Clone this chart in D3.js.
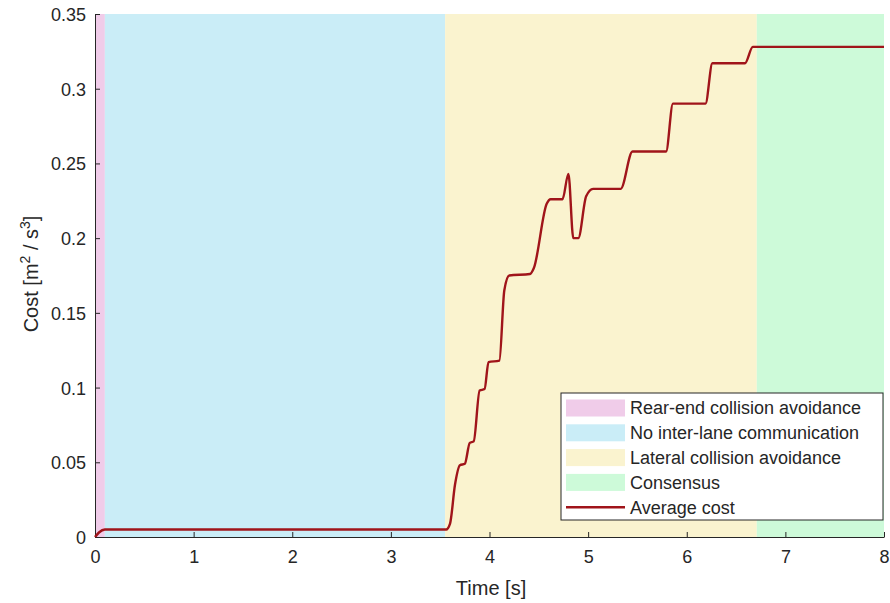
<!DOCTYPE html>
<html>
<head>
<meta charset="utf-8">
<script src="https://cdn.jsdelivr.net/npm/d3@7"></script>
<style>
  body { margin: 0; background: #fff; }
  svg text { font-family: "Liberation Sans", Arial, sans-serif; fill: #262626; }
</style>
</head>
<body>
<svg id="chart" width="890" height="603"></svg>
<script>
// phases (background bands)
var phaseNames = ["Rear-end collision avoidance", "No inter-lane communication", "Lateral collision avoidance", "Consensus"];
var phaseStart = [0, 0.1, 3.55, 6.71];
var phaseEnd   = [0.1, 3.55, 6.71, 8];

// average cost curve
var time = [0, 0.04, 0.1, 3.56, 3.6, 3.65, 3.7, 3.75, 3.8, 3.84, 3.9, 3.95, 3.99, 4.1, 4.15, 4.2,
            4.41, 4.45, 4.58, 4.62, 4.74, 4.8, 4.85, 4.9, 4.98, 5.05, 5.33, 5.45, 5.79, 5.86,
            6.19, 6.26, 6.59, 6.67, 8];
var cost = [0, 0.003, 0.005, 0.005, 0.009, 0.035, 0.048, 0.049, 0.063, 0.064, 0.098, 0.099, 0.117, 0.118, 0.165, 0.175,
            0.176, 0.18, 0.223, 0.226, 0.226, 0.243, 0.2, 0.2, 0.228, 0.233, 0.233, 0.258, 0.258, 0.290,
            0.290, 0.317, 0.317, 0.328, 0.328];

var xTicks = [0, 1, 2, 3, 4, 5, 6, 7, 8];
var yTicks = [0, 0.05, 0.1, 0.15, 0.2, 0.25, 0.3, 0.35];

var phaseColors = ["#f0cce9", "#caedf7", "#faf3cf", "#cdfad9"];
var lineColor = "#a0141a";

var svg = d3.select("#chart");

var x = d3.scaleLinear().domain([0, 8]).range([95, 884]);
var y = d3.scaleLinear().domain([0, 0.35]).range([537, 14]);

// background bands
svg.append("g").selectAll("rect")
    .data(phaseNames)
    .enter().append("rect")
    .attr("x", function(d, i) { return x(phaseStart[i]); })
    .attr("width", function(d, i) { return x(phaseEnd[i]) - x(phaseStart[i]); })
    .attr("y", y(0.35))
    .attr("height", y(0) - y(0.35))
    .attr("fill", function(d, i) { return phaseColors[i]; });

// axes, MATLAB style ticks pointing inwards
var xAxis = svg.append("g")
    .attr("transform", "translate(0," + y(0) + ")")
    .call(d3.axisBottom(x).tickValues(xTicks).tickSizeInner(-5).tickSizeOuter(0).tickPadding(13)
        .tickFormat(d3.format("d")));

var yAxis = svg.append("g")
    .attr("transform", "translate(" + x(0) + ",0)")
    .call(d3.axisLeft(y).tickValues(yTicks).tickSizeInner(-5).tickSizeOuter(0).tickPadding(9)
        .tickFormat(function(d) { return d === 0 ? "0" : d3.format("~g")(d); }));

[xAxis, yAxis].forEach(function(a) {
  a.select(".domain").attr("stroke", "#262626");
  a.selectAll(".tick line").attr("stroke", "#262626");
  a.selectAll(".tick text").attr("font-size", 18).attr("fill", "#333")
      .style("font-family", "'Liberation Sans', Arial, sans-serif");
});
yAxis.selectAll(".tick text").attr("dy", "0.36em");

// cost line
var line = d3.line()
    .x(function(d, i) { return x(time[i]); })
    .y(function(d) { return y(d); })
    .curve(d3.curveMonotoneX);

svg.append("path")
    .datum(cost)
    .attr("fill", "none")
    .attr("stroke", lineColor)
    .attr("stroke-width", 2.4)
    .attr("stroke-linejoin", "round")
    .attr("d", line);

// axis labels
svg.append("text")
    .attr("x", 491)
    .attr("y", 595)
    .attr("text-anchor", "middle")
    .attr("font-size", 20)
    .text("Time [s]");

var yLabel = svg.append("text")
    .attr("transform", "translate(38,274) rotate(-90)")
    .attr("text-anchor", "middle")
    .attr("font-size", 20);
yLabel.append("tspan").text("Cost [m");
yLabel.append("tspan").attr("dy", -8).attr("font-size", 14).text("2");
yLabel.append("tspan").attr("dy", 8).text(" / s");
yLabel.append("tspan").attr("dy", -8).attr("font-size", 14).text("3");
yLabel.append("tspan").attr("dy", 8).text("]");

// legend
var legend = svg.append("g").attr("transform", "translate(561,393)");
legend.append("rect")
    .attr("width", 322)
    .attr("height", 127)
    .attr("fill", "#fff")
    .attr("stroke", "#262626")
    .attr("stroke-width", 1);

var legendNames = phaseNames.concat(["Average cost"]);
var rows = legend.selectAll("g.row")
    .data(legendNames)
    .enter().append("g")
    .attr("class", "row")
    .attr("transform", function(d, i) { return "translate(0," + (15 + i * 24.8) + ")"; });

rows.filter(function(d, i) { return i < 4; })
    .append("rect")
    .attr("x", 5)
    .attr("y", -8.5)
    .attr("width", 59)
    .attr("height", 17)
    .attr("fill", function(d, i) { return phaseColors[i]; });

rows.filter(function(d, i) { return i === 4; })
    .append("line")
    .attr("x1", 5)
    .attr("x2", 64)
    .attr("stroke", lineColor)
    .attr("stroke-width", 2.4);

rows.append("text")
    .attr("x", 69)
    .attr("dy", "0.36em")
    .attr("font-size", 18)
    .text(function(d) { return d; });
</script>
</body>
</html>
